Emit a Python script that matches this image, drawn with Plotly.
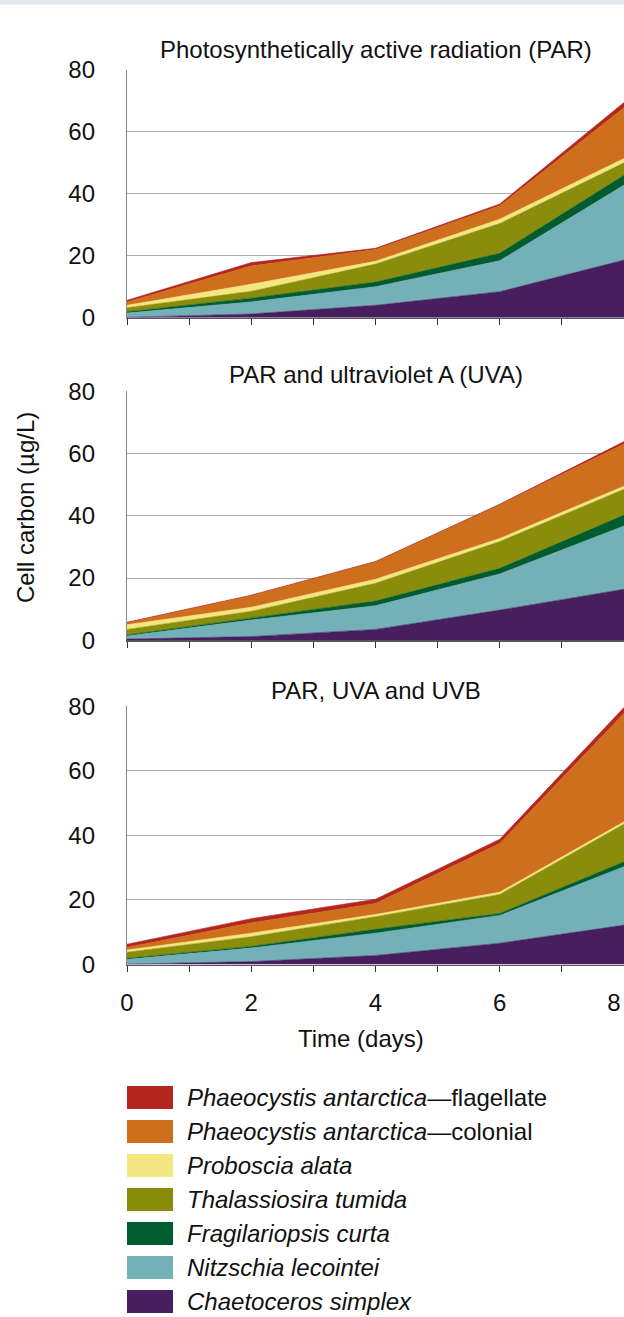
import plotly.graph_objects as go

# ---------------- data ----------------
days = [0, 2, 4, 6, 8]

species = [
    "Chaetoceros simplex",
    "Nitzschia lecointei",
    "Fragilariopsis curta",
    "Thalassiosira tumida",
    "Proboscia alata",
    "Phaeocystis antarctica—colonial",
    "Phaeocystis antarctica—flagellate",
]
legend_labels = [
    "<i>Chaetoceros simplex</i>",
    "<i>Nitzschia lecointei</i>",
    "<i>Fragilariopsis curta</i>",
    "<i>Thalassiosira tumida</i>",
    "<i>Proboscia alata</i>",
    "<i>Phaeocystis antarctica</i>—colonial",
    "<i>Phaeocystis antarctica</i>—flagellate",
]
colors = ["#481f5e", "#73b0b8", "#005c2e", "#8a8d0b", "#f5e681", "#cd6f1d", "#b5261e"]

panel_titles = [
    "Photosynthetically active radiation (PAR)",
    "PAR and ultraviolet A (UVA)",
    "PAR, UVA and UVB",
]

# cell carbon (µg/L) per species, bottom of stack first
par = [
    [0.1, 1.2, 4.0, 8.4, 18.6],
    [1.4, 3.9, 6.0, 10.0, 24.2],
    [0.4, 1.2, 1.5, 2.4, 3.2],
    [1.3, 2.2, 5.8, 9.6, 4.0],
    [0.8, 2.3, 0.9, 1.4, 1.4],
    [1.1, 5.9, 3.8, 4.3, 16.4],
    [0.5, 1.1, 0.4, 0.6, 1.7],
]
par_uva = [
    [0.4, 1.2, 3.5, 9.7, 16.4],
    [1.0, 5.3, 7.6, 11.6, 20.3],
    [0.3, 0.6, 1.5, 1.8, 3.5],
    [1.8, 2.2, 5.7, 8.6, 8.3],
    [1.5, 1.3, 1.3, 1.0, 1.0],
    [0.6, 3.7, 5.6, 10.8, 13.5],
    [0.2, 0.2, 0.1, 0.2, 0.8],
]
par_uva_uvb = [
    [0.1, 0.9, 2.8, 6.6, 12.2],
    [1.5, 4.2, 6.9, 8.6, 18.1],
    [0.3, 0.5, 1.2, 0.6, 1.5],
    [1.9, 3.0, 3.9, 5.9, 11.7],
    [0.7, 1.1, 0.7, 0.7, 0.7],
    [0.8, 3.2, 3.4, 15.1, 33.6],
    [1.0, 1.3, 1.3, 1.3, 1.8],
]
panels = [par, par_uva, par_uva_uvb]

y_ticks = [0, 20, 40, 60, 80]
x_tickvals = [0, 1, 2, 3, 4, 5, 6, 7, 8]
x_ticktext = ["0", "", "2", "", "4", "", "6", "", "8\u00a0\u00a0\u00a0"]

# ---------------- layout helpers ----------------
W, H = 624, 1317
L = 127
PW = W - L
FONT = "Liberation Sans, Arial, Helvetica, sans-serif"


def fx(px):
    return (px - L) / PW


def fy(py):
    return 1 - py / H


# plot areas in pixels (top, bottom)
areas = [(69.7, 317.7), (391.0, 640.3), (706.0, 964.5)]
title_y = [49, 374, 690]

fig = go.Figure()

for p, data in enumerate(panels):
    xa = "x" if p == 0 else f"x{p+1}"
    ya = "y" if p == 0 else f"y{p+1}"
    for s, vals in enumerate(data):
        fig.add_trace(go.Scatter(
            x=days, y=vals, xaxis=xa, yaxis=ya,
            mode="lines", stackgroup=f"g{p}",
            line=dict(width=0.6, color=colors[s]),
            fillcolor=colors[s], name=species[s],
            showlegend=False, hoverinfo="x+y+name",
        ))

layout = dict(
    template="none",
    width=W, height=H,
    margin=dict(l=L, r=0, t=0, b=0, pad=0, autoexpand=False),
    paper_bgcolor="white", plot_bgcolor="white",
    font=dict(family=FONT, size=24, color="#111111"),
    showlegend=False,
)

for p in range(3):
    top, bot = areas[p]
    xk = "xaxis" if p == 0 else f"xaxis{p+1}"
    yk = "yaxis" if p == 0 else f"yaxis{p+1}"
    yname = "y" if p == 0 else f"y{p+1}"
    xname = "x" if p == 0 else f"x{p+1}"
    layout[xk] = dict(
        domain=[0, 1], anchor=yname, range=[0, 8], automargin=False,
        tickvals=x_tickvals, ticktext=x_ticktext,
        showticklabels=(p == 2), ticklabeloverflow="allow",
        ticks="outside", ticklen=6, tickwidth=1, tickcolor="#333333",
        showline=True, linecolor="#555555", linewidth=1.2,
        showgrid=False, zeroline=False, fixedrange=True,
        ticklabelstandoff=10,
        tickfont=dict(size=24, family=FONT, color="#111111"),
    )
    layout[yk] = dict(
        domain=[fy(bot), fy(top)], anchor=xname, range=[0, 80.05], automargin=False,
        tickvals=y_ticks, ticks="",
        showline=True, linecolor="#888888", linewidth=1.2,
        showgrid=True, gridcolor="#aaaaaa", gridwidth=1,
        zeroline=False, fixedrange=True,
        ticklabelstandoff=26,
        tickfont=dict(size=24, family=FONT, color="#111111"),
    )

fig.update_layout(**layout)

annotations = []
for p in range(3):
    annotations.append(dict(
        text=panel_titles[p], x=0.5, y=fy(title_y[p]), xref="paper", yref="paper",
        xanchor="center", yanchor="middle", showarrow=False,
        font=dict(size=24, family=FONT, color="#111111"),
    ))

annotations.append(dict(
    text="Time (days)", x=fx(361), y=fy(1038), xref="paper", yref="paper",
    xanchor="center", yanchor="middle", showarrow=False,
    font=dict(size=24, family=FONT, color="#111111"),
))
annotations.append(dict(
    text="Cell carbon (µg/L)", x=fx(25), y=fy(508), xref="paper", yref="paper",
    xanchor="center", yanchor="middle", showarrow=False, textangle=-90,
    font=dict(size=24, family=FONT, color="#111111"),
))

shapes = [dict(
    type="rect", xref="paper", yref="paper",
    x0=fx(0), x1=1, y0=fy(4.5), y1=1.0,
    fillcolor="#e3e8ec", line=dict(width=0), layer="above",
)]

# legend (top row = top of stack)
row0 = 1097.5
for i in range(len(species)):
    s = len(species) - 1 - i
    cy = row0 + 34 * i
    shapes.append(dict(
        type="rect", xref="paper", yref="paper",
        x0=fx(127), x1=fx(173), y0=fy(cy + 11.5), y1=fy(cy - 11.5),
        fillcolor=colors[s], line=dict(width=0),
    ))
    annotations.append(dict(
        text=legend_labels[s], x=fx(185), y=fy(cy), xref="paper", yref="paper",
        xanchor="left", yanchor="middle", showarrow=False,
        font=dict(size=24, family=FONT, color="#111111"),
    ))

fig.update_layout(annotations=annotations, shapes=shapes)

fig.write_html(
    "out.html",
    config={"displayModeBar": False, "staticPlot": True},
    post_script="document.body.style.margin='0';",
)
